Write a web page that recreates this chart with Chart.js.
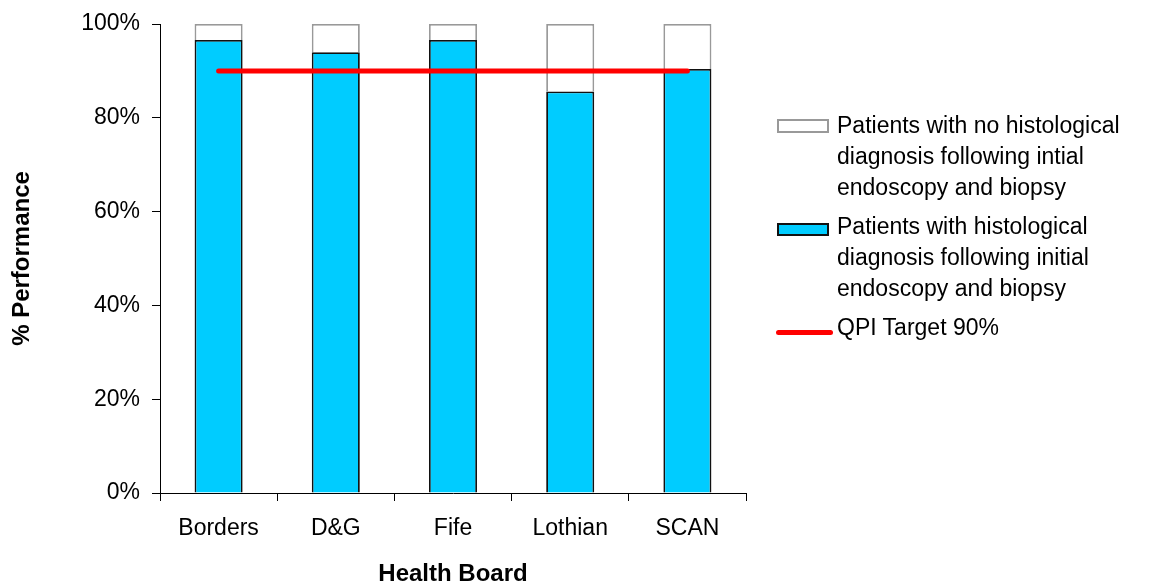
<!DOCTYPE html>
<html>
<head>
<meta charset="utf-8">
<script src="https://cdn.jsdelivr.net/npm/chart.js@4"></script>
<style>
    html, body { margin: 0; padding: 0; background: #fff; }
    #wrap { position: relative; width: 1154px; height: 584px; }
    #legend {
        position: absolute; left: 776px; top: 110px;
        font-family: Arial, "Liberation Sans", sans-serif; font-size: 23px; color: #000;
        line-height: 31px; white-space: nowrap;
    }
    .item { position: relative; padding-left: 61px; margin-bottom: 8px; }
    .swatch { position: absolute; left: 1px; top: 9px; width: 52px; height: 14px; box-sizing: border-box; }
    .line-swatch { position: absolute; left: 0; top: 18px; width: 57px; height: 5px; background: #ff0000; border-radius: 3px; }
</style>
</head>
<body>
<div id="wrap">
    <canvas id="qpiChart" width="1154" height="584"></canvas>
    <div id="legend"></div>
</div>
<script>
const boards = ['Borders', 'D&G', 'Fife', 'Lothian', 'SCAN'];
const withDiagnosis = [96.6, 94.0, 96.6, 85.6, 90.4]; // % of patients
const target = [90, 90, 90, 90, 90];
const withoutDiagnosis = withDiagnosis.map(v => +(100 - v).toFixed(1));

const seriesNames = [
    'Patients with no histological diagnosis following intial endoscopy and biopsy',
    'Patients with histological diagnosis following initial endoscopy and biopsy',
    'QPI Target 90%'
];
const legendLines = [
    ['Patients with no histological', 'diagnosis following intial', 'endoscopy and biopsy'],
    ['Patients with histological', 'diagnosis following initial', 'endoscopy and biopsy'],
    ['QPI Target 90%']
];

const FONT = 'Arial, "Liberation Sans", sans-serif';
Chart.defaults.font.family = FONT;
Chart.defaults.color = '#000';

const ctx = document.getElementById('qpiChart').getContext('2d');
new Chart(ctx, {
    type: 'bar',
    data: {
        labels: boards,
        datasets: [
            {
                type: 'line',
                label: seriesNames[2],
                data: target,
                stack: 'target',
                borderColor: '#ff0000',
                borderWidth: 5,
                borderCapStyle: 'round',
                pointRadius: 0,
                fill: false,
                order: 0
            },
            {
                label: seriesNames[1],
                data: withDiagnosis,
                stack: 'patients',
                backgroundColor: '#00ccff',
                borderColor: '#111',
                borderWidth: 1.8,
                barPercentage: 0.41,
                categoryPercentage: 1,
                order: 1
            },
            {
                label: seriesNames[0],
                data: withoutDiagnosis,
                stack: 'patients',
                backgroundColor: '#fff',
                borderColor: '#999',
                borderWidth: 1.8,
                barPercentage: 0.41,
                categoryPercentage: 1,
                order: 1
            }
        ]
    },
    options: {
        responsive: false,
        animation: false,
        layout: { padding: { top: 24, right: 408, left: 0, bottom: 0 } },
        plugins: {
            legend: { display: false },
            tooltip: { enabled: false }
        },
        scales: {
            x: {
                stacked: true,
                grid: { drawOnChartArea: false, offset: true, tickLength: 8, color: '#000' },
                border: { color: '#000' },
                ticks: { font: { size: 23 }, padding: 14, maxRotation: 0 },
                title: {
                    display: true, text: 'Health Board',
                    font: { size: 24, weight: 'bold', lineHeight: 1 }, padding: { top: 0, bottom: -2 }
                },
                afterFit: scale => { scale.height = 91; }
            },
            y: {
                stacked: true,
                min: 0, max: 100,
                grid: { drawOnChartArea: false, tickLength: 8, color: '#000' },
                border: { color: '#000' },
                ticks: {
                    stepSize: 20, font: { size: 23 }, padding: 12,
                    callback: v => v + '%'
                },
                title: {
                    display: true, text: '% Performance',
                    font: { size: 24, weight: 'bold' }, padding: { top: 8, bottom: 0 }
                },
                afterFit: scale => {
                    scale.width = 160;
                    scale.paddingTop = 0;
                    scale.paddingBottom = 0;
                }
            }
        }
    }
});

// legend beside the plot
const legend = document.getElementById('legend');
const swatches = [
    'background:#fff;border:2px solid #999;',
    'background:#00ccff;border:2px solid #111;top:12px;height:13px;',
    null
];
legendLines.forEach((lines, i) => {
    const item = document.createElement('div');
    item.className = 'item';
    const sw = document.createElement('span');
    if (swatches[i]) {
        sw.className = 'swatch';
        sw.style.cssText = swatches[i];
    } else {
        sw.className = 'line-swatch';
    }
    item.appendChild(sw);
    const txt = document.createElement('div');
    lines.forEach(l => {
        const d = document.createElement('div');
        d.textContent = l;
        txt.appendChild(d);
    });
    item.appendChild(txt);
    legend.appendChild(item);
});
</script>
</body>
</html>
